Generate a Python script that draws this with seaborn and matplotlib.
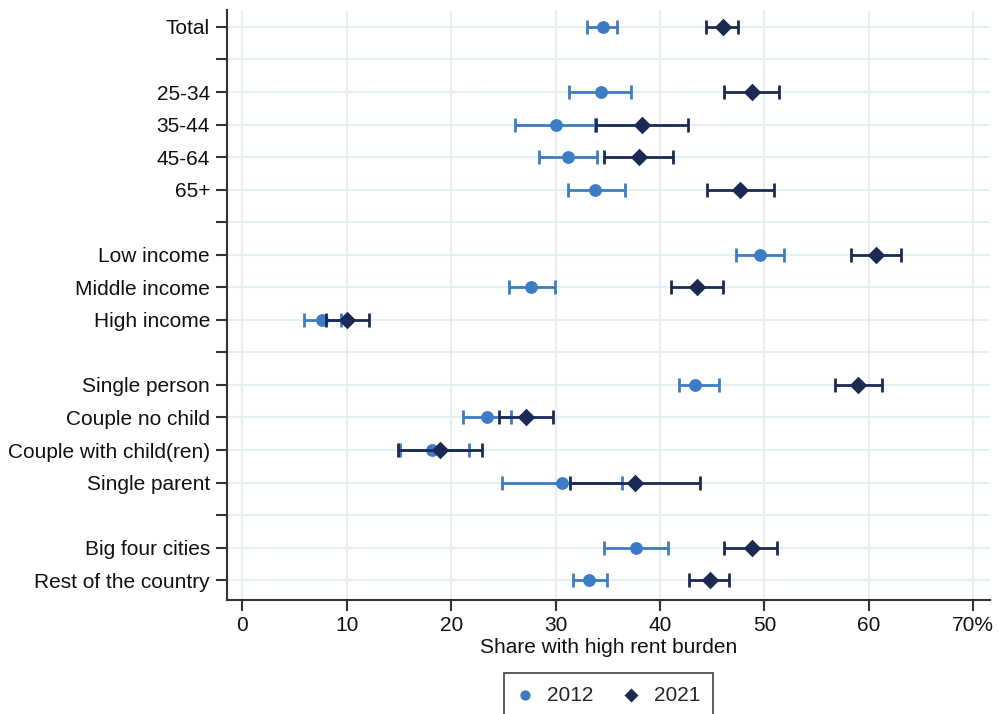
import numpy as np
import pandas as pd
import matplotlib
matplotlib.use("Agg")
import matplotlib.pyplot as plt
import seaborn as sns

sns.set_style("white")
plt.rcParams["font.family"] = ["Liberation Sans", "DejaVu Sans"]

nan = np.nan

# row labels, blanks are spacer rows between groups
labels = ["Total", "",
          "25-34", "35-44", "45-64", "65+", "",
          "Low income", "Middle income", "High income", "",
          "Single person", "Couple no child", "Couple with child(ren)", "Single parent", "",
          "Big four cities", "Rest of the country"]

# share with high rent burden (%) and confidence bounds
est_2012 = [34.5, nan, 34.3, 30.0, 31.2, 33.8, nan, 49.6, 27.6, 7.6, nan, 43.3, 23.4, 18.2, 30.6, nan, 37.7, 33.2]
lo_2012 = [33.0, nan, 31.3, 26.1, 28.4, 31.2, nan, 47.3, 25.5, 5.9, nan, 41.8, 21.1, 15.1, 24.9, nan, 34.6, 31.7]
hi_2012 = [35.9, nan, 37.2, 33.8, 34.0, 36.6, nan, 51.9, 29.9, 9.4, nan, 45.6, 25.7, 21.7, 36.4, nan, 40.8, 34.9]

est_2021 = [46.0, nan, 48.8, 38.3, 38.0, 47.7, nan, 60.7, 43.5, 10.0, nan, 59.0, 27.2, 18.9, 37.6, nan, 48.8, 44.8]
lo_2021 = [44.4, nan, 46.1, 33.9, 34.6, 44.5, nan, 58.3, 41.0, 8.0, nan, 56.8, 24.6, 14.9, 31.4, nan, 46.1, 42.8]
hi_2021 = [47.5, nan, 51.4, 42.7, 41.2, 50.9, nan, 63.1, 46.0, 12.1, nan, 61.3, 29.7, 22.9, 43.8, nan, 51.2, 46.6]

xticks = [0, 10, 20, 30, 40, 50, 60, 70]
xticklabels = ["0", "10", "20", "30", "40", "50", "60", "70%"]

years = ["2012", "2021"]
colors = {"2012": "#3b7cc4", "2021": "#1b2a55"}
markers = {"2012": "o", "2021": "D"}
sizes = {"2012": 85, "2021": 80}

pos = np.arange(len(labels))
df = pd.concat([
    pd.DataFrame({"pos": pos, "est": est_2012, "lo": lo_2012, "hi": hi_2012, "year": "2012"}),
    pd.DataFrame({"pos": pos, "est": est_2021, "lo": lo_2021, "hi": hi_2021, "year": "2021"}),
]).dropna()

fig, ax = plt.subplots(figsize=(9.99, 7.14), dpi=100)
fig.subplots_adjust(left=0.227, right=0.991, top=0.986, bottom=0.16)

for i, yr in enumerate(years):
    d = df[df["year"] == yr]
    ax.errorbar(d["est"], d["pos"], xerr=[d["est"] - d["lo"], d["hi"] - d["est"]],
                fmt="none", ecolor=colors[yr], elinewidth=2, capsize=5, capthick=2,
                zorder=3 + 2 * i)
    sns.scatterplot(data=d, x="est", y="pos", color=colors[yr], marker=markers[yr],
                    s=sizes[yr], linewidth=0, label=yr, ax=ax, zorder=4 + 2 * i)

ax.set_xlim(-1.5, 71.6)
ax.set_ylim(len(labels) - 0.4, -0.52)
ax.set_yticks(pos)
ax.set_yticklabels(labels, fontsize=15, color="#111111")
ax.set_xticks(xticks)
ax.set_xticklabels(xticklabels, fontsize=15, color="#111111")
ax.set_xlabel("Share with high rent burden", fontsize=15, labelpad=2, color="#111111")
ax.set_ylabel("")

ax.grid(True, color="#e6f0f3", linewidth=1.5)
ax.set_axisbelow(True)
sns.despine(ax=ax)
for s in ["left", "bottom"]:
    ax.spines[s].set_color("#333333")
    ax.spines[s].set_linewidth(1.5)
ax.tick_params(axis="both", direction="out", length=8, width=1.5, color="#333333", pad=4, left=True, bottom=True)

h, l = ax.get_legend_handles_labels()
ax.get_legend().remove()
leg = fig.legend(h, l, loc="upper center", bbox_to_anchor=(0.609, 0.0574), ncol=2,
                 fontsize=15, frameon=True, fancybox=False, edgecolor="#111111",
                 handlelength=0.8, handletextpad=0.7, columnspacing=1.4,
                 borderpad=0.6, borderaxespad=0, markerscale=0.8)
leg.get_frame().set_linewidth(1.2)

plt.savefig("out.png", dpi=100)
